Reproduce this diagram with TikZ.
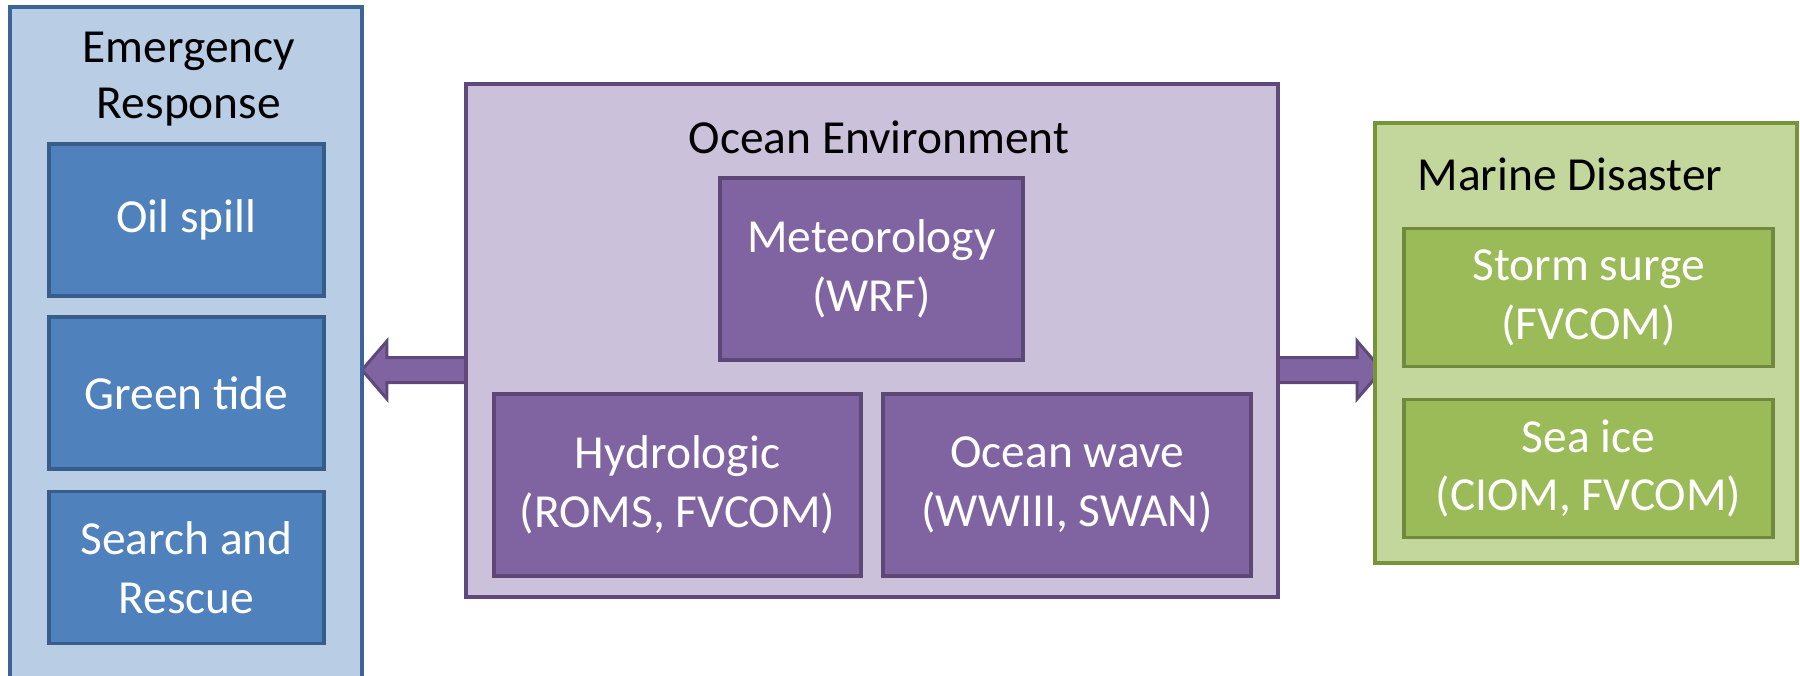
\documentclass[tikz,border=0pt]{standalone}
\usepackage{fontspec}
\setmainfont{Carlito}
\usetikzlibrary{calc,backgrounds}

\definecolor{erfill}{HTML}{B9CDE5}
\definecolor{erline}{HTML}{3C6496}
\definecolor{erbox}{HTML}{4F81BD}
\definecolor{erboxline}{HTML}{385D8A}
\definecolor{oefill}{HTML}{CCC1DA}
\definecolor{oeline}{HTML}{5F497A}
\definecolor{oebox}{HTML}{8064A2}
\definecolor{oeboxline}{HTML}{5C4776}
\definecolor{mdfill}{HTML}{C3D69B}
\definecolor{mdline}{HTML}{77933C}
\definecolor{mdbox}{HTML}{9BBB59}
\definecolor{mdboxline}{HTML}{71893F}

\tikzset{
    bigbox/.style={draw, rectangle, line width=0.08cm, outer sep=0pt, inner sep=0pt},
    smallbox/.style={draw, rectangle, line width=0.07cm, outer sep=0pt, inner sep=2pt,
        text=white, align=center, minimum height=3.64cm, font=\fontsize{27}{33.5}\selectfont},
    title/.style={text=black, align=center},
    fatarrow/.style={draw=oeline, fill=oebox, line width=0.06cm, line join=miter}
}

\begin{document}
\begin{tikzpicture}[x=0.02cm, y=-0.02cm, font=\fontsize{27}{32}\selectfont]
    \clip (0,0) rectangle (1800,676);

    % Outer frames
    \node[bigbox, fill=erfill, draw=erline, minimum width=7.04cm, minimum height=14.26cm] (emer) at (186,363.5) {};
    \node[bigbox, fill=oefill, draw=oeline, minimum width=16.24cm, minimum height=10.26cm] (env) at (872,340.5) {};
    \node[bigbox, fill=mdfill, draw=mdline, minimum width=8.44cm, minimum height=8.8cm] (marine) at (1586,343) {};

    % Titles
    \node[title] (ertitle) at (189,79) {Emergency\\Response};
    \node[title, anchor=base] (oetitle) at (879,153) {Ocean Environment};
    \node[title, anchor=base] (mdtitle) at (1570,190) {Marine Disaster};

    % Emergency response
    \node[smallbox, fill=erbox, draw=erboxline, minimum width=5.5cm, minimum height=3.04cm] (oil) at (186.5,220) {Oil spill};
    \node[smallbox, fill=erbox, draw=erboxline, minimum width=5.5cm, minimum height=3.04cm] (tide) at (186.5,393) {Green tide};
    \node[smallbox, fill=erbox, draw=erboxline, minimum width=5.5cm, minimum height=3.04cm] (sar) at (186.5,567.5) {Search and\\Rescue};

    % Ocean environment
    \node[smallbox, fill=oebox, draw=oeboxline, minimum width=6.06cm] (met) at (871.5,269) {Meteorology\\(WRF)};
    \node[smallbox, fill=oebox, draw=oeboxline, minimum width=7.34cm] (hydro) at (677.5,485) {Hydrologic\\(ROMS, FVCOM)};
    \node[smallbox, fill=oebox, draw=oeboxline, minimum width=7.36cm] (wave) at (1067,485) {Ocean wave\\(WWIII, SWAN)};

    % Marine disaster
    \node[smallbox, fill=mdbox, draw=mdboxline, minimum width=7.38cm, minimum height=2.77cm] (surge) at (1588.5,297.5) {Storm surge\\(FVCOM)};
    \node[smallbox, fill=mdbox, draw=mdboxline, minimum width=7.38cm, minimum height=2.77cm] (ice) at (1588.5,468.5) {Sea ice\\(CIOM, FVCOM)};

    % Block arrows, behind the frames
    \coordinate (lstart) at ($(env.west)+(0,29.5)$);
    \coordinate (ltip) at (emer.east |- lstart);
    \coordinate (rstart) at ($(env.east)+(0,29.5)$);
    \coordinate (rtip) at ($(marine.west |- rstart)+(7,0)$);
    \begin{scope}[on background layer]
        \draw[fatarrow] ($(lstart)+(0,-12.5)$) -- ($(ltip)+(25,-12.5)$) -- ($(ltip)+(25,-29)$) -- (ltip)
            -- ($(ltip)+(25,29)$) -- ($(ltip)+(25,12.5)$) -- ($(lstart)+(0,12.5)$) -- cycle;
        \draw[fatarrow] ($(rstart)+(0,-12.5)$) -- ($(rtip)+(-25,-12.5)$) -- ($(rtip)+(-25,-29)$) -- (rtip)
            -- ($(rtip)+(-25,29)$) -- ($(rtip)+(-25,12.5)$) -- ($(rstart)+(0,12.5)$) -- cycle;
    \end{scope}
\end{tikzpicture}
\end{document}
